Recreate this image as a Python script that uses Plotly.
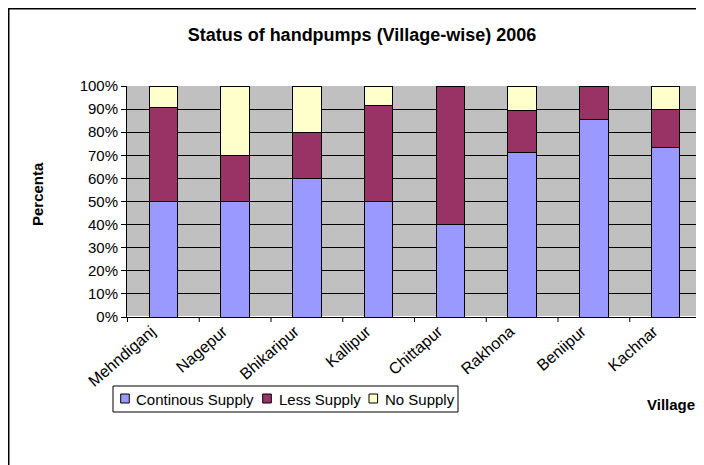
import plotly.graph_objects as go

villages = ["Mehndiganj", "Nagepur", "Bhikaripur", "Kallipur",
            "Chittapur", "Rakhona", "Beniipur", "Kachnar"]
continous_supply = [50.0, 50.0, 60.0, 50.0, 40.0, 71.4, 85.7, 73.3]
less_supply = [40.9, 20.0, 20.0, 41.7, 60.0, 17.9, 14.3, 16.7]
no_supply = [9.1, 30.0, 20.0, 8.3, 0.0, 10.7, 0.0, 10.0]

series = [
    ("Continous Supply", continous_supply, "#9999FF"),
    ("Less Supply", less_supply, "#993366"),
    ("No Supply", no_supply, "#FFFFCC"),
]

FONT = "Arial, Liberation Sans, sans-serif"
W, H = 696, 457          # page body adds an 8px offset
L, R, T, B = 119, 2, 78, 148
PW, PH = W - L - R, H - T - B


def px(x):
    return (x - L) / PW


def py(y):
    return (H - B - y) / PH


fig = go.Figure()
for name, vals, color in series:
    fig.add_trace(go.Bar(
        x=villages, y=vals, name=name, showlegend=False,
        marker=dict(color=color, line=dict(color="black", width=1)),
    ))

fig.update_layout(
    barmode="stack",
    bargap=0.6,
    width=W, height=H,
    margin=dict(l=L, r=R, t=T, b=B),
    paper_bgcolor="white",
    plot_bgcolor="#C0C0C0",
    font=dict(family=FONT, size=15, color="black"),
    title=dict(text="<b>Status of handpumps (Village-wise) 2006</b>",
               x=354 / W, xanchor="center", y=1 - 27 / H, yanchor="middle",
               font=dict(size=18)),
)

fig.update_xaxes(
    showgrid=False, showline=True, linecolor="black", linewidth=1,
    tickangle=-41, ticks="", tickfont=dict(size=16),
    ticklabelshift=-12, ticklabelstandoff=-2,
)
fig.update_yaxes(
    range=[0, 100], dtick=10, ticksuffix="%",
    showgrid=True, gridcolor="black", gridwidth=1,
    showline=True, linecolor="black", linewidth=1,
    ticks="outside", ticklen=5, tickcolor="black", tickfont=dict(size=15),
)

# boundary tick marks between categories
for i in range(len(villages) + 1):
    fig.add_shape(type="line", xref="x", yref="paper",
                  x0=i - 0.5, x1=i - 0.5, y0=0, y1=-5 / PH,
                  line=dict(color="black", width=1))

# axis titles
fig.add_annotation(text="<b>Percenta</b>", xref="paper", yref="paper",
                   x=px(29), y=py(186), textangle=-90,
                   xanchor="center", yanchor="middle",
                   showarrow=False, font=dict(size=15))
fig.add_annotation(text="<b>Village</b>", xref="paper", yref="paper",
                   x=px(663), y=py(396), xanchor="center", yanchor="middle",
                   showarrow=False, font=dict(size=15))

# legend box
fig.add_shape(type="rect", xref="paper", yref="paper",
              x0=px(105), x1=px(450), y0=py(404), y1=py(378),
              line=dict(color="black", width=1), fillcolor="white")
legend_pos = [(112.7, 126), (254.7, 268.7), (361, 375.3)]
for (name, _, color), (sx, tx) in zip(series, legend_pos):
    fig.add_shape(type="rect", xref="paper", yref="paper",
                  x0=px(sx), x1=px(sx + 8.6), y0=py(395), y1=py(386),
                  line=dict(color="black", width=1), fillcolor=color)
    fig.add_annotation(text=name, xref="paper", yref="paper",
                       x=px(tx), y=py(391), xanchor="left", yanchor="middle",
                       showarrow=False, font=dict(size=15))

# outer chart border
fig.add_shape(type="rect", xref="paper", yref="paper",
              x0=px(0.75), x1=px(720), y0=py(480), y1=py(0.75),
              line=dict(color="black", width=1.5), layer="below")

fig.write_html("out.html")
